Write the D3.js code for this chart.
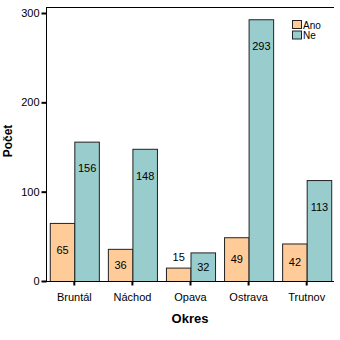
<!DOCTYPE html>
<html>
<head>
<meta charset="utf-8">
<script src="https://cdn.jsdelivr.net/npm/d3@7"></script>
<style>
  html, body { margin: 0; padding: 0; background: #fff; }
  svg { display: block; font-family: "Liberation Sans", Arial, sans-serif; }
</style>
</head>
<body>
<div id="chart"></div>
<script>
// Districts and counts per answer
const districts = ["Bruntál", "Náchod", "Opava", "Ostrava", "Trutnov"];
const seriesNames = ["Ano", "Ne"];
const anoValues = [65, 36, 15, 49, 42];
const neValues = [156, 148, 32, 293, 113];
const yTicks = [0, 100, 200, 300];
const seriesColors = ["#ffcc99", "#99cccc"];

const W = 340, H = 340;
const plotLeft = 46, plotRight = 334, plotTop = 7, plotBottom = 281;

const svg = d3.select("#chart").append("svg")
  .attr("width", W).attr("height", H);

const x = d3.scaleBand()
  .domain(districts)
  .range([plotLeft, plotRight + 1])
  .paddingInner(0.155)
  .paddingOuter(0.065);

const x1 = d3.scaleBand()
  .domain(seriesNames)
  .range([0, x.bandwidth()]);

const y = d3.scaleLinear()
  .domain([0, 300])
  .range([plotBottom, plotTop + 6]);

const color = d3.scaleOrdinal().domain(seriesNames).range(seriesColors);

const rows = districts.map((d, i) => ({
  district: d,
  values: [
    { key: "Ano", value: anoValues[i] },
    { key: "Ne", value: neValues[i] }
  ]
}));

// Top frame line
svg.append("line")
  .attr("x1", plotLeft).attr("x2", plotRight)
  .attr("y1", plotTop + 0.5).attr("y2", plotTop + 0.5)
  .attr("stroke", "#000").attr("stroke-width", 1);

// Bars
const groups = svg.append("g").selectAll("g")
  .data(rows).join("g")
  .attr("transform", d => `translate(${x(d.district)},0)`);

groups.selectAll("rect")
  .data(d => d.values).join("rect")
  .attr("x", d => x1(d.key) + 0.5)
  .attr("y", d => y(d.value) + 0.5)
  .attr("width", x1.bandwidth())
  .attr("height", d => y(0) - y(d.value))
  .attr("fill", d => color(d.key))
  .attr("stroke", "#222")
  .attr("stroke-width", 1);

// Value labels
groups.selectAll("text.val")
  .data(d => d.values).join("text")
  .attr("class", "val")
  .attr("x", d => x1(d.key) + x1.bandwidth() / 2 + 0.5)
  .attr("y", d => {
    const t = y(d.value), h = y(0) - t;
    if (h < 20) return t - 10;
    return Math.min(t + 27, t + h / 2);
  })
  .attr("dy", "0.35em")
  .attr("text-anchor", "middle")
  .attr("font-size", 11)
  .attr("fill", "#000")
  .text(d => d.value);

// Y axis
const yAxis = svg.append("g")
  .attr("transform", `translate(${plotLeft + 0.5},0)`)
  .call(d3.axisLeft(y).tickValues(yTicks).tickSize(5).tickPadding(2).tickSizeOuter(0));
yAxis.select(".domain").attr("d", `M0,${plotTop}V${plotBottom + 0.5}`).attr("stroke", "#000");
yAxis.selectAll("text").attr("font-size", 11).attr("font-family", "Liberation Sans, Arial, sans-serif").attr("fill", "#000");
yAxis.selectAll("line").attr("stroke-width", 2);

// X axis
const xAxis = svg.append("g")
  .attr("transform", `translate(0,${plotBottom + 0.5})`)
  .call(d3.axisBottom(x).tickSize(4).tickPadding(8).tickSizeOuter(0));
xAxis.select(".domain").attr("d", `M${plotLeft},0H${plotRight}`).attr("stroke", "#000");
xAxis.selectAll("text").attr("font-size", 11).attr("font-family", "Liberation Sans, Arial, sans-serif").attr("fill", "#000");
xAxis.selectAll("line").attr("stroke-width", 2);

// Axis titles
svg.append("text")
  .attr("x", (plotLeft + plotRight) / 2).attr("y", 323)
  .attr("text-anchor", "middle")
  .attr("font-size", 13).attr("font-weight", "bold")
  .text("Okres");

svg.append("text")
  .attr("transform", `translate(12,141) rotate(-90)`)
  .attr("text-anchor", "middle")
  .attr("font-size", 12).attr("font-weight", "bold")
  .text("Počet");

// Legend
const legend = svg.append("g").attr("transform", "translate(292,20)");
const li = legend.selectAll("g").data(seriesNames).join("g")
  .attr("transform", (d, i) => `translate(0,${i * 10.5})`);
li.append("rect")
  .attr("x", 0.5).attr("y", 0.5)
  .attr("width", 9).attr("height", 8)
  .attr("fill", d => color(d))
  .attr("stroke", "#222");
li.append("text")
  .attr("x", 11).attr("y", 5)
  .attr("dy", "0.35em")
  .attr("font-size", 10)
  .text(d => d);
</script>
</body>
</html>
